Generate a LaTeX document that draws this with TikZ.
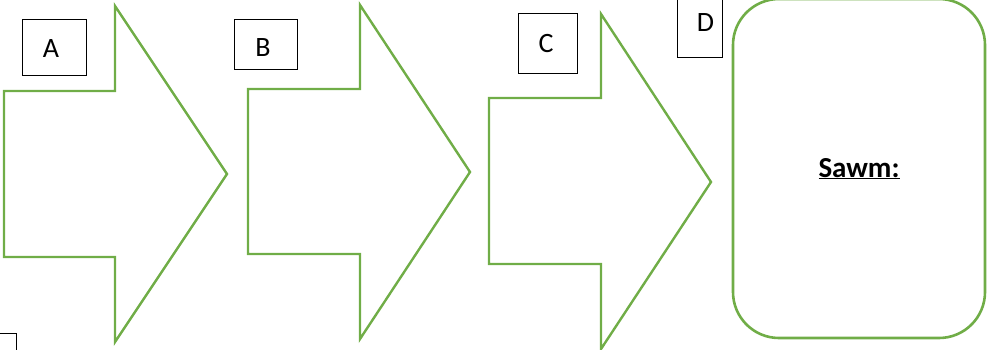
\documentclass[tikz,border=0pt]{standalone}
\usepackage{fontspec}
\setmainfont{Carlito}
\definecolor{arrowgreen}{HTML}{70AD47}
\begin{document}
\begin{tikzpicture}[x=1pt,y=-1pt,
  arrowshape/.style={draw=arrowgreen,line width=2.4pt,line join=miter},
  labelbox/.style={draw=black,line width=1pt,inner sep=0pt},
  letter/.style={inner sep=0pt,font=\fontsize{28}{30}\selectfont},
  bigbox/.style={draw=arrowgreen,line width=2.6pt,rounded corners=46pt}]
\useasboundingbox (0,0) rectangle (988,350);
\clip (0,0) rectangle (988,350);
% arrows
\draw[arrowshape] (4,91) -- (115,91) -- (115,6) -- (227,174) -- (115,342) -- (115,257) -- (4,257) -- cycle;
\draw[arrowshape] (248,89) -- (360,89) -- (360,5) -- (470,172) -- (360,339) -- (360,254) -- (248,254) -- cycle;
\draw[arrowshape] (489,98) -- (601,98) -- (601,14) -- (711,182) -- (601,349) -- (601,264) -- (489,264) -- cycle;
% label boxes
\node[labelbox,minimum width=64pt,minimum height=56pt] (boxA) at (54,48) {};
\node[letter] (A) at (51,49) {A};
\node[labelbox,minimum width=63pt,minimum height=50pt] (boxB) at (265.5,45) {};
\node[letter] (B) at (263,48) {B};
\node[labelbox,minimum width=59pt,minimum height=60pt] (boxC) at (547.5,44) {};
\node[letter] (C) at (546,44) {C};
\draw[draw=black,line width=1pt] (677,-5) rectangle (722,58);
\node[letter] (D) at (705.5,23) {D};
\draw[draw=black,line width=1pt] (-5,333) -- (16,333) -- (16,360);
% Sawm box
\draw[bigbox] (733,-1) rectangle (985,338);
\node[inner sep=0pt,font=\bfseries\fontsize{29}{31}\selectfont,anchor=base] (S) at (859,177) {\underline{Sawm:}};
\end{tikzpicture}
\end{document}
